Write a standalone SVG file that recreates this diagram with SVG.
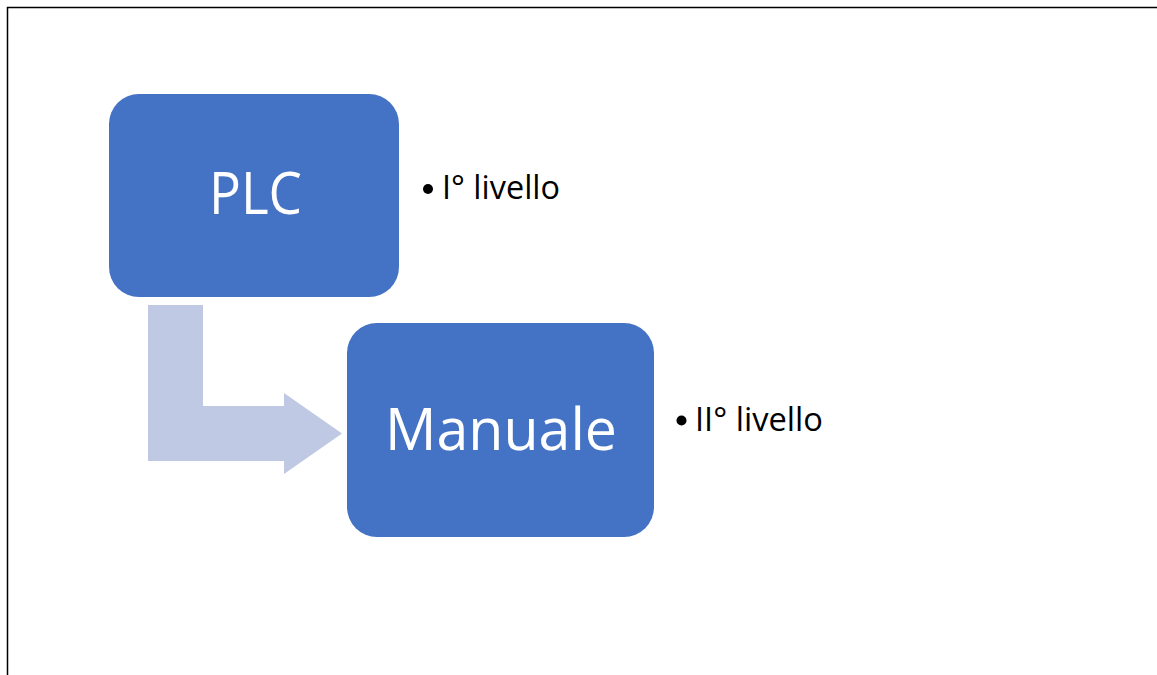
<svg xmlns="http://www.w3.org/2000/svg" width="1157" height="675" viewBox="0 0 1157 675">
<style>
.box{fill:#4472C4}
.lbl{font-family:"Open Sans","Liberation Sans",Arial,sans-serif;fill:#ffffff;font-size:59px;text-anchor:middle}
.side{font-family:"Open Sans","Liberation Sans",Arial,sans-serif;fill:#000000;font-size:32px}
.dot{fill:#000000}
</style>
<rect width="1157" height="675" fill="#ffffff"/>
<path d="M7.5,675 V7.5 H1157" fill="none" stroke="#000000" stroke-width="1.5"/>
<g id="connectors">
<path d="M148,305 H203 V406 H284 V393 L342,433.5 L284,474 V461 H148 Z" fill="#BFC9E4"/>
</g>
<g id="node-plc">
<rect class="box" x="109" y="94" width="290" height="203" rx="30" ry="30"/>
<text class="lbl" x="255.5" y="214" textLength="93" lengthAdjust="spacingAndGlyphs">PLC</text>
</g>
<g id="node-manuale">
<rect class="box" x="347" y="323" width="307" height="214" rx="30" ry="30"/>
<text class="lbl" x="501" y="450" textLength="232" lengthAdjust="spacingAndGlyphs">Manuale</text>
</g>
<g id="label-1">
<circle class="dot" cx="428" cy="189" r="5"/>
<text class="side" x="442" y="199" textLength="118" lengthAdjust="spacingAndGlyphs">I° livello</text>
</g>
<g id="label-2">
<circle class="dot" cx="681.5" cy="420.5" r="5"/>
<text class="side" x="695" y="431" textLength="128" lengthAdjust="spacingAndGlyphs">II° livello</text>
</g>
</svg>
